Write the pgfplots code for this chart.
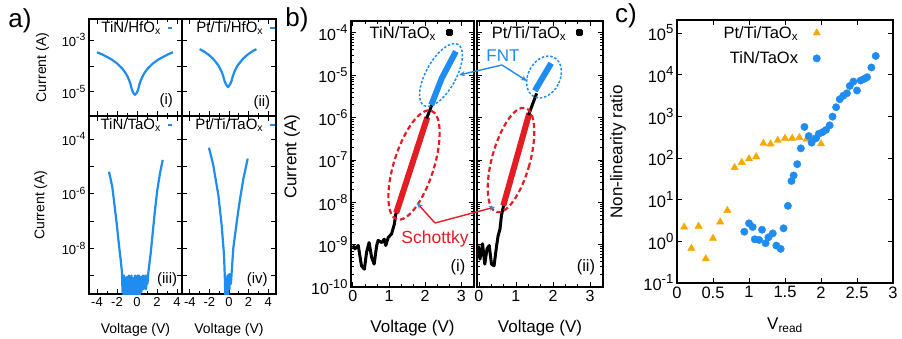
\documentclass[border=0pt]{standalone}
\usepackage{pgfplots}
\pgfplotsset{compat=1.18}
\usepackage{graphicx}
\usepackage{fontspec}
\setmainfont{Liberation Sans}
\usetikzlibrary{arrows.meta}
\definecolor{myblue}{RGB}{30,140,240}
\definecolor{myred}{RGB}{228,28,36}
\definecolor{myorange}{RGB}{245,168,0}
\newcommand{\fs}[1]{\fontsize{#1}{#1}\selectfont}
\newcommand{\E}[1]{10\raisebox{0.42em}{\scalebox{0.8}{#1}}}
\newcommand{\alegfont}{\fontsize{15}{15}\selectfont}
\newcommand{\blegfont}{\fontsize{16.5}{16.5}\selectfont}
\pgfplotsset{
  myaxis/.style={scale only axis, anchor=north west, tick align=inside,
    axis line style={line width=1.6pt}, major tick length=5pt, minor tick length=2.8pt,
    every tick/.style={line width=0.7pt, black}, legend cell align=right, legend plot pos=right},
  acurve/.style={myblue, line width=2.2pt, line join=round},
  pa/.style={myaxis, tick label style={font=\fs{13}}, label style={font=\fs{14}}, yminorticks=false, minor x tick num=1,
    legend image code/.code={\path (0pt,0pt); \draw[##1, line width=2pt] (4pt,0pt) -- (8.5pt,0pt);}},
  pb/.style={myaxis, axis line style={line width=2pt}, tick label style={font=\fs{16}}, label style={font=\fs{17}},
    xmin=-0.05, xmax=3.35, xtick={0,1,2,3}, xticklabels={0,1,2,3}, minor x tick num=2,
    xlabel={Voltage (V)}, xlabel style={at={(axis description cs:0.5,-0.154)}, anchor=center},
    legend image code/.code={\path (0pt,0pt); \fill[black] (8pt,-2pt) rectangle (12pt,2pt);}},
  blk/.style={black, line width=3pt, line join=round},
  thk/.style={line width=6pt},
}
\begin{document}
\begin{tikzpicture}
\path[use as bounding box] (0pt,0pt) rectangle (902pt,-339pt);
% ---------------- panel a ----------------
\begin{axis}[pa, at={(89pt,-19pt)}, width=93pt, height=97pt, xmin=-4.8, xmax=4.5,
  ymode=log, ymin=1.15e-6, ymax=6.6e-3, xtick={-4,-2,0,2,4}, xticklabels={},
  ytick={1e-3,1e-4,1e-5}, yticklabels={\E{-3},,\E{-5}},
  ylabel={Current (A)}, ylabel style={at={(axis description cs:-0.5,0.5)}, anchor=center},
  legend style={draw=none, fill=none, inner sep=0pt, font=\alegfont, at={(axis description cs:0.91,0.907)}, anchor=east}]
\addplot[acurve] coordinates {(-4.0,3.39e-4) (-3.5,2.82e-4) (-3.0,2.24e-4) (-2.5,1.74e-4) (-2.0,1.26e-4) (-1.5,8.13e-5) (-1.2,5.75e-5) (-1.0,4.27e-5) (-0.8,2.88e-5) (-0.65,2.0e-5) (-0.5,1.15e-5) (-0.35,8.9e-6) (-0.2,7.6e-6) (-0.05,8.9e-6) (0.1,1.15e-5) (0.25,2.0e-5) (0.4,2.88e-5) (0.6,4.27e-5) (0.8,5.75e-5) (1.1,8.13e-5) (1.6,1.26e-4) (2.1,1.74e-4) (2.6,2.24e-4) (3.1,2.82e-4) (3.6,3.39e-4)};
\addlegendentry{TiN/HfO\textsubscript{x}}
\node[font=\fs{15}] at (axis description cs:0.83,0.155) {(i)};
\end{axis}
\begin{axis}[pa, at={(182pt,-19pt)}, width=94pt, height=97pt, xmin=-4.8, xmax=4.8,
  ymode=log, ymin=1.15e-6, ymax=6.6e-3, xtick={-4,-2,0,2,4}, xticklabels={},
  ytick={1e-3,1e-4,1e-5}, yticklabels={},
  legend style={draw=none, fill=none, inner sep=0pt, font=\alegfont, at={(axis description cs:1.0,0.907)}, anchor=east}]
\addplot[acurve] coordinates {(-3.0,4.47e-4) (-2.6,3.72e-4) (-2.1,2.75e-4) (-1.6,1.86e-4) (-1.1,1.07e-4) (-0.8,6.6e-5) (-0.6,4.17e-5) (-0.45,2.57e-5) (-0.3,1.9e-5) (-0.1,1.51e-5) (0.1,1.9e-5) (0.25,2.57e-5) (0.4,4.17e-5) (0.6,6.6e-5) (0.9,1.07e-4) (1.4,1.86e-4) (1.9,2.75e-4) (2.4,3.72e-4) (2.8,4.47e-4)};
\addlegendentry{Pt/Ti/HfO\textsubscript{x}}
\node[font=\fs{15}] at (axis description cs:0.85,0.14) {(ii)};
\end{axis}
\begin{axis}[pa, at={(89pt,-116pt)}, width=93pt, height=178pt, xmin=-4.8, xmax=4.5,
  ymode=log, ymin=2.1e-10, ymax=6.9e-4, xtick={-4,-2,0,2,4}, xticklabels={-4,-2,0,2,4},
  ytick={1e-4,1e-5,1e-6,1e-7,1e-8,1e-9}, yticklabels={\E{-4},,\E{-6},,\E{-8},},
  ylabel={Current (A)}, ylabel style={at={(axis description cs:-0.52,0.5)}, anchor=center},
  xlabel={Voltage (V)}, xlabel style={at={(axis description cs:0.5,-0.2)}, anchor=center},
  legend style={draw=none, fill=none, inner sep=0pt, font=\alegfont, at={(axis description cs:0.91,0.95)}, anchor=east}]
\addplot[acurve] coordinates {(-2.8,6.31e-6) (-2.65,3.55e-6) (-2.47,1.74e-6) (-2.27,4.37e-7) (-2.03,7.94e-8) (-1.83,1.58e-8) (-1.63,3.72e-9) (-1.5,1.26e-9)
 (-1.45,2.51e-10) (-1.4,7.94e-10) (-1.35,1.58e-10) (-1.3,1e-9) (-1.2,5.01e-10) (-1.15,1.58e-10) (-1.1,6.31e-10) (-1.0,8.91e-10) (-0.95,2.0e-10) (-0.9,5.01e-10) (-0.8,1e-9) (-0.75,1.26e-10) (-0.7,6.31e-10) (-0.6,3.16e-10) (-0.55,1e-9) (-0.5,1.58e-10) (-0.4,7.94e-10) (-0.35,1.26e-10) (-0.3,5.01e-10) (-0.2,1e-9) (-0.15,2.0e-10) (-0.1,7.94e-10) (0.0,1.58e-10) (0.05,1e-9) (0.1,3.98e-10) (0.2,1e-9) (0.25,1.26e-10) (0.3,6.31e-10) (0.4,8.91e-10) (0.45,2.51e-10) (0.5,7.94e-10) (0.6,1e-9) (0.65,3.16e-10) (0.7,8.91e-10) (0.8,5.01e-10) (0.85,1e-9) (0.9,3.16e-10) (1.0,1e-9) (1.05,5.01e-10)
 (1.13,1.26e-9) (1.37,6.61e-9) (1.57,3.63e-8) (1.8,2.51e-7) (2.03,1.35e-6) (2.3,5.62e-6) (2.57,1.70e-5)};
\addlegendentry{TiN/TaO\textsubscript{x}}
\node[font=\fs{15}] at (axis description cs:0.84,0.079) {(iii)};
\end{axis}
\begin{axis}[pa, at={(182pt,-116pt)}, width=94pt, height=178pt, xmin=-4.8, xmax=4.8,
  ymode=log, ymin=2.1e-10, ymax=6.9e-4, xtick={-4,-2,0,2,4}, xticklabels={-4,-2,0,2,4},
  ytick={1e-4,1e-5,1e-6,1e-7,1e-8,1e-9}, yticklabels={},
  xlabel={Voltage (V)}, xlabel style={at={(axis description cs:0.5,-0.2)}, anchor=center},
  legend style={draw=none, fill=none, inner sep=0pt, font=\alegfont, at={(axis description cs:1.0,0.95)}, anchor=east}]
\addplot[acurve] coordinates {(-2.05,4.79e-5) (-1.61,1.12e-5) (-1.44,4.79e-6) (-1.09,8.91e-7) (-0.75,7.08e-8) (-0.51,5.62e-9) (-0.41,6.03e-10)
 (-0.38,1.26e-10) (-0.3,7.94e-10) (-0.25,1.26e-10) (-0.15,1e-9) (-0.1,1.58e-10) (0.0,1.12e-9) (0.05,3.16e-10) (0.1,1.12e-9) (0.2,5.01e-10) (0.27,1.26e-9)
 (0.44,1e-8) (0.79,9.12e-8) (1.13,6.46e-7) (1.47,3.47e-6) (1.91,1.91e-5)};
\addlegendentry{Pt/Ti/TaO\textsubscript{x}}
\node[font=\fs{15}] at (axis description cs:0.8,0.079) {(iv)};
\end{axis}
% ---------------- panel b ----------------
\begin{axis}[pb, at={(351pt,-21pt)}, width=123pt, height=266pt,
  ymode=log, ymin=1e-10, ymax=1.9e-4,
  ytick={1e-10,1e-9,1e-8,1e-7,1e-6,1e-5,1e-4},
  minor ytick={2e-10,3e-10,4e-10,5e-10,6e-10,7e-10,8e-10,9e-10,2e-9,3e-9,4e-9,5e-9,6e-9,7e-9,8e-9,9e-9,2e-8,3e-8,4e-8,5e-8,6e-8,7e-8,8e-8,9e-8,2e-7,3e-7,4e-7,5e-7,6e-7,7e-7,8e-7,9e-7,2e-6,3e-6,4e-6,5e-6,6e-6,7e-6,8e-6,9e-6,2e-5,3e-5,4e-5,5e-5,6e-5,7e-5,8e-5,9e-5},
  yticklabels={\E{-10},\E{-9},\E{-8},\E{-7},\E{-6},\E{-5},\E{-4}},
  ylabel={Current (A)}, ylabel style={at={(axis description cs:-0.48,0.489)}, anchor=center},
  legend style={draw=none, fill=none, inner sep=0pt, font=\blegfont, at={(axis description cs:0.83,0.955)}, anchor=east}]
\addplot[blk] coordinates {(0.0,9.55e-10) (0.06,7.94e-10) (0.15,9.55e-10) (0.24,3.16e-10) (0.32,2.63e-10) (0.38,6.61e-10) (0.45,1.12e-9) (0.52,5.01e-10) (0.59,3.47e-10) (0.66,9.55e-10) (0.70,1.26e-9) (0.80,1.12e-9) (0.87,1.35e-9) (0.91,9.55e-10) (0.98,1.48e-9) (1.07,1.78e-9) (1.15,3.09e-9) (1.19,5.37e-9) (1.22,6.0e-9)};
\addlegendentry{TiN/TaO\textsubscript{x}}
\addplot[myred, thk, forget plot] coordinates {(1.20,5.6e-9) (2.06,1.02e-6)};
\addplot[blk, forget plot] coordinates {(2.04,9.5e-7) (2.20,2.14e-6)};
\addplot[myblue, thk, forget plot] coordinates {(2.17,2.0e-6) (2.46,8.51e-6) (2.85,3.63e-5)};
\node[font=\fs{16.5}] at (axis description cs:0.87,0.075) {(i)};
\end{axis}
\begin{axis}[pb, at={(477pt,-21pt)}, width=126pt, height=266pt,
  ymode=log, ymin=1e-10, ymax=1.9e-4,
  ytick={1e-10,1e-9,1e-8,1e-7,1e-6,1e-5,1e-4},
  minor ytick={2e-10,3e-10,4e-10,5e-10,6e-10,7e-10,8e-10,9e-10,2e-9,3e-9,4e-9,5e-9,6e-9,7e-9,8e-9,9e-9,2e-8,3e-8,4e-8,5e-8,6e-8,7e-8,8e-8,9e-8,2e-7,3e-7,4e-7,5e-7,6e-7,7e-7,8e-7,9e-7,2e-6,3e-6,4e-6,5e-6,6e-6,7e-6,8e-6,9e-6,2e-5,3e-5,4e-5,5e-5,6e-5,7e-5,8e-5,9e-5},
  yticklabels={},
  legend style={draw=none, fill=none, inner sep=0pt, font=\blegfont, at={(axis description cs:0.845,0.955)}, anchor=east}]
\addplot[blk] coordinates {(-0.02,9.55e-10) (0.03,4.57e-10) (0.1,1.05e-9) (0.16,3.47e-10) (0.22,7.94e-10) (0.28,9.55e-10) (0.34,3.47e-10) (0.41,3.16e-10) (0.48,9.55e-10) (0.52,1.62e-9) (0.57,2.34e-9) (0.61,4.9e-9) (0.67,8.5e-9)};
\addlegendentry{Pt/Ti/TaO\textsubscript{x}}
\addplot[myred, thk, forget plot] coordinates {(0.66,8.32e-9) (1.36,1.26e-6)};
\addplot[blk, forget plot] coordinates {(1.34,1.15e-6) (1.56,3.72e-6)};
\addplot[myblue, thk, forget plot] coordinates {(1.51,4.27e-6) (1.95,1.91e-5)};
\node[font=\fs{16.5}] at (axis description cs:0.865,0.075) {(ii)};
\end{axis}
% ---------------- panel c ----------------
\begin{axis}[myaxis, axis line style={line width=1.8pt}, at={(677pt,-20pt)}, width=216pt, height=263pt,
  tick label style={font=\fs{16.5}}, label style={font=\fs{17}},
  xmin=0, xmax=3, ymode=log, ymin=0.1, ymax=2.04e5, yminorticks=false,
  xtick={0,0.5,1,1.5,2,2.5,3}, xticklabels={0,0.5,1,1.5,2,2.5,3},
  ytick={1e-1,1e0,1e1,1e2,1e3,1e4,1e5},
  yticklabels={\E{-1},\E{0},\E{1},\E{2},\E{3},\E{4},\E{5}},
  ylabel={Non-linearity ratio}, ylabel style={at={(axis description cs:-0.273,0.498)}, anchor=center},
  xlabel={V\textsubscript{read}}, xlabel style={at={(axis description cs:0.5,-0.16)}, anchor=center},
  legend image code/.code={\path (0pt,0pt); \draw[#1] plot coordinates {(17pt,0pt)};},
  legend style={draw=none, fill=none, inner sep=0pt, font=\fs{16.5}, at={(axis description cs:0.665,1.0)}, anchor=north east,
    nodes={inner xsep=1.5pt, inner ysep=6pt}}]
\addplot[only marks, mark=triangle*, mark size=4.2pt, color=myorange, mark options={draw=myorange, fill=myorange}] coordinates {(0.1,2.2) (0.2,0.68) (0.3,2.3) (0.4,0.38) (0.5,1.18) (0.6,2.9) (0.7,5.5) (0.8,59) (0.9,78) (1.0,95) (1.1,107) (1.2,224) (1.3,216) (1.4,264) (1.5,297) (1.6,297) (1.7,309) (1.8,282) (1.9,282) (2.0,218)};
\addlegendentry{Pt/Ti/TaO\textsubscript{x}}
\addplot[only marks, mark=*, mark size=3.7pt, color=myblue, mark options={draw=myblue, fill=myblue}] coordinates {(0.935,1.7) (1.0,2.7) (1.05,2.2) (1.08,1.12) (1.14,1.08) (1.18,1.9) (1.23,0.9) (1.27,1.25) (1.33,1.55) (1.38,0.79) (1.44,0.66) (1.48,2.05) (1.54,7.1) (1.59,28) (1.62,38) (1.67,71) (1.72,170) (1.77,555) (1.83,336) (1.87,233) (1.93,297) (1.97,380) (2.02,415) (2.07,470) (2.12,605) (2.16,980) (2.21,1650) (2.26,2560) (2.31,3100) (2.36,3560) (2.40,5340) (2.45,6800) (2.50,4150) (2.55,7200) (2.60,7900) (2.64,8650) (2.70,14800) (2.76,28000)};
\addlegendentry{TiN/TaOx}
\end{axis}
% ---------------- annotations ----------------
\begin{scope}[x=1pt,y=-1pt]
\node[font=\fs{26}] at (20,21) {a)};
\node[font=\fs{26}] at (297,20) {b)};
\node[font=\fs{26}] at (626,16) {c)};
\begin{scope}[myred, line width=2.2pt, dash pattern=on 5pt off 3pt]
\draw[rotate around={-17.5:(414,165)}] (414,165) ellipse [x radius=20, y radius=57];
\draw[rotate around={-15.4:(511,160)}] (511,160) ellipse [x radius=19, y radius=54];
\end{scope}
\begin{scope}[myblue, line width=1.5pt, dash pattern=on 2.5pt off 1.8pt]
\draw[rotate around={-29:(441,75)}] (441,75) ellipse [x radius=15, y radius=35];
\draw[rotate around={-27:(544,77)}] (544,77) ellipse [x radius=16, y radius=22];
\end{scope}
\node[font=\fs{17}, text=myblue] at (503,56) {FNT};
\draw[myblue, line width=1.4pt, -{Stealth[length=6pt,width=5pt]}] (502,65) -- (459,75);
\draw[myblue, line width=1.4pt, -{Stealth[length=6pt,width=5pt]}] (502,65) -- (527,81);
\node[font=\fs{17.5}, text=myred] at (435,239) {Schottky};
\draw[myred, line width=1.4pt, -{Stealth[length=6pt,width=5pt,color=myblue]}] (435,223) -- (417,203);
\draw[myred, line width=1.4pt, -{Stealth[length=6pt,width=5pt,color=myblue]}] (435,223) -- (495,207);
\end{scope}
\end{tikzpicture}
\end{document}
